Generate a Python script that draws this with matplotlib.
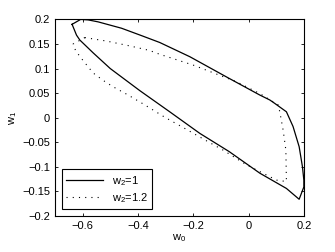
import matplotlib
matplotlib.use('Agg')
import matplotlib.pyplot as plt

# contour for w2=1 (solid)
w0_a = [-0.638, -0.607, -0.580, -0.544, -0.459, -0.387, -0.321, -0.212, -0.080, 0.041, 0.077,
        0.095, 0.137, 0.161, 0.183, 0.195, 0.200, 0.200, 0.183, 0.137, 0.041, -0.070, -0.176,
        -0.285, -0.393, -0.500, -0.562, -0.610, -0.622, -0.638]
w1_a = [0.190, 0.200, 0.199, 0.195, 0.182, 0.167, 0.153, 0.124, 0.083, 0.046, 0.036,
        0.029, 0.012, -0.018, -0.059, -0.100, -0.127, -0.141, -0.166, -0.144, -0.113, -0.069, -0.032,
        0.012, 0.055, 0.100, 0.132, 0.158, 0.168, 0.190]

# contour for w2=1.2 (dotted)
w0_b = [-0.592, -0.514, -0.429, -0.359, -0.321, -0.200, -0.043, 0.041, 0.107, 0.113, 0.125,
        0.135, 0.137, 0.101, -0.007, -0.092, -0.146, -0.224, -0.303, -0.381, -0.435, -0.490,
        -0.526, -0.562, -0.598, -0.625, -0.634, -0.592]
w1_b = [0.163, 0.156, 0.146, 0.137, 0.129, 0.107, 0.073, 0.049, 0.026, 0.012, -0.025,
        -0.066, -0.130, -0.127, -0.096, -0.066, -0.049, -0.024, 0.001, 0.028, 0.046, 0.063,
        0.076, 0.091, 0.116, 0.136, 0.150, 0.163]

xticks = [-0.6, -0.4, -0.2, 0, 0.2]
yticks = [-0.2, -0.15, -0.1, -0.05, 0, 0.05, 0.1, 0.15, 0.2]

plt.rcParams['font.family'] = ['Liberation Sans', 'DejaVu Sans']
plt.rcParams['mathtext.fontset'] = 'custom'
plt.rcParams['mathtext.rm'] = 'Liberation Sans'
plt.rcParams['mathtext.it'] = 'Liberation Sans'

fig = plt.figure(figsize=(3.35, 2.52), dpi=100)
ax = fig.add_axes([0.164, 0.143, 0.743, 0.78])

ax.plot(w0_a, w1_a, '-', color='black', lw=0.9, label='$\\mathrm{w_2}$=1')
ax.plot(w0_b, w1_b, color='black', lw=0.8, linestyle=(0, (1, 4.6)), label='$\\mathrm{w_2}$=1.2')

ax.set_xlim(-0.7, 0.2)
ax.set_ylim(-0.2, 0.2)
ax.set_xticks(xticks)
ax.set_xticklabels(['\u22120.6', '\u22120.4', '\u22120.2', '0', '0.2'])
ax.set_yticks(yticks)
ax.set_yticklabels(['\u22120.2', '\u22120.15', '\u22120.1', '\u22120.05', '0', '0.05', '0.1', '0.15', '0.2'])
ax.tick_params(direction='in', top=True, right=True, labelsize=8, length=2.5, width=0.6)
for s in ax.spines.values():
    s.set_linewidth(0.8)

ax.set_xlabel('$\\mathrm{w_0}$', fontsize=8, labelpad=1)
ax.set_ylabel('$\\mathrm{w_1}$', fontsize=8, labelpad=2)

leg = ax.legend(loc='lower left', fontsize=8, fancybox=False, framealpha=1,
                borderaxespad=0.6, handlelength=3.3, borderpad=0.4, labelspacing=0.3)
leg.get_frame().set_edgecolor('black')
leg.get_frame().set_linewidth(0.8)

fig.savefig('out.png', dpi=100)
